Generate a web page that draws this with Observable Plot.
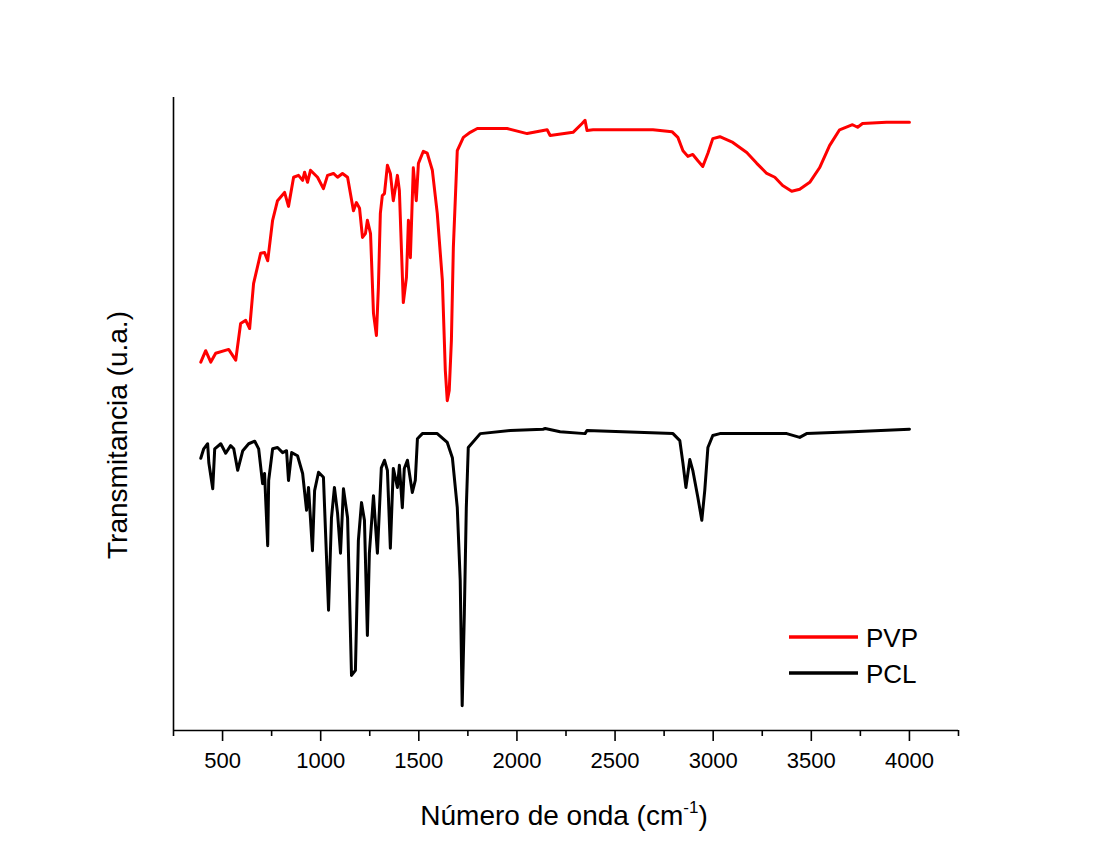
<!DOCTYPE html>
<html>
<head>
<meta charset="utf-8">
<script src="https://cdn.jsdelivr.net/npm/d3@7"></script>
<script src="https://cdn.jsdelivr.net/npm/@observablehq/plot@0.6"></script>
<style>
  html, body { margin: 0; padding: 0; background: #ffffff; }
  #chart { width: 1098px; height: 844px; }
</style>
</head>
<body>
<div id="chart"></div>
<script>
// ---- Data ----
const seriesNames = ["PVP", "PCL"];
const seriesColors = ["#ff0000", "#000000"];

const pvpWn = [389, 414, 440, 465, 531, 567, 592, 618, 638, 658, 694, 714, 730, 755, 780, 816, 836, 862, 887, 908, 918, 933, 948, 984, 1014, 1035, 1065, 1086, 1111, 1137, 1167, 1182, 1198, 1213, 1228, 1238, 1254, 1269, 1284, 1294, 1304, 1314, 1325, 1340, 1355, 1370, 1391, 1401, 1421, 1437, 1447, 1457, 1472, 1487, 1498, 1523, 1543, 1569, 1594, 1620, 1635, 1645, 1655, 1666, 1676, 1696, 1727, 1762, 1798, 1950, 2052, 2154, 2169, 2286, 2332, 2347, 2357, 2388, 2693, 2790, 2820, 2846, 2871, 2896, 2922, 2947, 2973, 2998, 3034, 3100, 3171, 3222, 3273, 3314, 3354, 3400, 3441, 3492, 3542, 3593, 3644, 3710, 3736, 3761, 3883, 4000];
const pvpT  = [58.2, 60.0, 58.2, 59.6, 60.2, 58.5, 64.3, 64.8, 63.5, 70.6, 75.4, 75.5, 74.2, 80.6, 83.7, 85.0, 82.8, 87.4, 87.7, 86.9, 88.2, 86.6, 88.5, 87.4, 85.6, 87.7, 88.0, 87.4, 88.0, 87.4, 82.1, 83.4, 82.5, 77.9, 78.5, 80.6, 78.5, 65.9, 62.4, 70.0, 81.7, 84.5, 84.8, 89.3, 88.0, 83.7, 87.7, 85.3, 67.6, 71.6, 80.6, 74.7, 88.9, 83.7, 89.6, 91.5, 91.2, 88.5, 81.7, 71.1, 56.9, 52.1, 53.7, 61.6, 76.3, 91.6, 93.7, 94.5, 95.1, 95.1, 94.3, 94.9, 94.0, 94.5, 95.9, 96.4, 94.8, 94.9, 94.9, 94.6, 93.7, 91.6, 90.7, 91.0, 90.0, 89.1, 91.2, 93.5, 93.8, 92.9, 91.3, 89.6, 88.0, 87.4, 86.1, 85.2, 85.5, 86.6, 88.9, 92.4, 94.9, 95.7, 95.3, 95.9, 96.1, 96.1];

const pclWn = [389, 404, 424, 430, 450, 460, 491, 516, 541, 557, 577, 603, 633, 664, 684, 704, 714, 730, 735, 755, 780, 806, 826, 836, 852, 882, 908, 928, 938, 958, 969, 989, 1014, 1040, 1055, 1070, 1086, 1101, 1116, 1137, 1157, 1177, 1192, 1208, 1223, 1238, 1248, 1269, 1289, 1309, 1325, 1340, 1355, 1370, 1391, 1401, 1416, 1426, 1442, 1467, 1482, 1493, 1518, 1594, 1645, 1671, 1696, 1711, 1721, 1732, 1742, 1752, 1813, 1966, 2133, 2144, 2220, 2347, 2357, 2795, 2830, 2846, 2861, 2881, 2896, 2922, 2942, 2957, 2973, 2998, 3034, 3375, 3441, 3476, 3710, 4000];
const pclT  = [43.0, 44.5, 45.3, 42.3, 38.2, 44.5, 45.3, 43.8, 45.0, 44.5, 41.1, 44.2, 45.3, 45.7, 44.5, 39.0, 40.6, 29.2, 39.5, 44.5, 44.7, 43.9, 44.2, 39.5, 43.9, 43.4, 40.6, 34.8, 38.4, 28.4, 37.9, 40.8, 40.0, 19.0, 33.6, 38.4, 34.3, 28.0, 38.2, 33.6, 8.7, 9.5, 30.0, 36.0, 33.2, 15.0, 28.0, 37.1, 28.0, 41.5, 42.7, 41.1, 28.8, 41.4, 38.4, 41.9, 35.2, 41.4, 42.7, 37.6, 39.5, 46.1, 46.9, 46.9, 45.5, 43.1, 35.2, 23.7, 3.9, 18.5, 35.2, 44.7, 46.9, 47.4, 47.6, 47.7, 47.2, 46.9, 47.4, 46.9, 45.8, 42.2, 38.4, 42.8, 41.1, 36.8, 33.2, 37.9, 44.7, 46.6, 46.9, 46.9, 46.3, 46.9, 47.2, 47.6];

const xMajorTicks = [500, 1000, 1500, 2000, 2500, 3000, 3500, 4000];
const xMinorTicks = [250, 750, 1250, 1750, 2250, 2750, 3250, 3750, 4250];
const xDomain = [250, 4250];
const yDomain = [0, 100];

const xTitle = "Número de onda (cm";
const xTitleSup = "-1";
const yTitle = "Transmitancia (u.a.)";

// ---- Build tables ----
const pvp = pvpWn.map((x, i) => ({x, y: pvpT[i]}));
const pcl = pclWn.map((x, i) => ({x, y: pclT[i]}));

const FONT = "'Liberation Sans', Arial, Helvetica, sans-serif";

const chart = Plot.plot({
  width: 1098,
  height: 844,
  marginLeft: 173,
  marginRight: 140,
  marginTop: 97,
  marginBottom: 114,
  style: {fontFamily: FONT, background: "#ffffff", color: "#000"},
  x: {domain: xDomain},
  y: {domain: yDomain, axis: null},
  marks: [
    Plot.line(pvp, {x: "x", y: "y", stroke: seriesColors[0], strokeWidth: 3, strokeLinejoin: "round", strokeLinecap: "round"}),
    Plot.line(pcl, {x: "x", y: "y", stroke: seriesColors[1], strokeWidth: 3, strokeLinejoin: "round", strokeLinecap: "round"}),
    Plot.ruleY([yDomain[0]], {stroke: "#000", strokeWidth: 1.6}),
    Plot.ruleX([xDomain[0]], {stroke: "#000", strokeWidth: 1.6}),
    Plot.axisX({ticks: xMajorTicks, tickSize: 11, tickPadding: 11, fontSize: 22, tickFormat: d => String(d), label: null, stroke: "#000", strokeWidth: 1.6, color: "#000"}),
    Plot.axisX({ticks: xMinorTicks, tickSize: 6, tickFormat: () => "", label: null, stroke: "#000", strokeWidth: 1.6})
  ]
});

document.getElementById("chart").appendChild(chart);

// ---- Titles and legend appended to the SVG ----
const svg = d3.select(chart);

const xt = svg.append("text")
  .attr("x", 564).attr("y", 825)
  .attr("text-anchor", "middle")
  .attr("font-family", FONT).attr("font-size", 28).attr("fill", "#000");
xt.append("tspan").text(xTitle);
xt.append("tspan").attr("font-size", 17).attr("dy", -12).text(xTitleSup);
xt.append("tspan").attr("dy", 12).text(")");

svg.append("text")
  .attr("transform", "translate(127,435) rotate(-90)")
  .attr("text-anchor", "middle")
  .attr("font-family", FONT).attr("font-size", 28).attr("fill", "#000")
  .text(yTitle);

const legendY = [637, 673];
seriesNames.forEach((name, i) => {
  svg.append("line")
    .attr("x1", 789).attr("x2", 858)
    .attr("y1", legendY[i]).attr("y2", legendY[i])
    .attr("stroke", seriesColors[i]).attr("stroke-width", 3.5);
  svg.append("text")
    .attr("x", 866).attr("y", legendY[i] + 10)
    .attr("text-anchor", "start")
    .attr("font-family", FONT).attr("font-size", 26).attr("fill", "#000")
    .text(name);
});
</script>
</body>
</html>
